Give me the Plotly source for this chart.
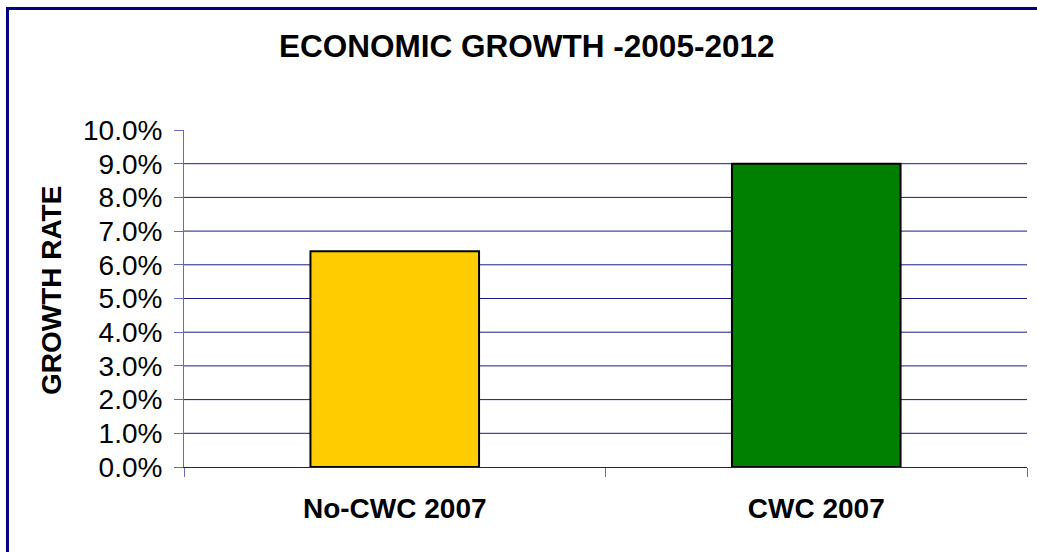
import plotly.graph_objects as go

# ---- data ----
categories = ["No-CWC 2007", "CWC 2007"]
growth_rate = [0.064, 0.090]
bar_colors = ["#FFCC00", "#008000"]
tick_values = [0.0, 0.01, 0.02, 0.03, 0.04, 0.05, 0.06, 0.07, 0.08, 0.09, 0.10]
grid_levels = [0.01, 0.02, 0.03, 0.04, 0.05, 0.06, 0.07, 0.08, 0.09]
title_text = "ECONOMIC GROWTH -2005-2012"
y_title = "GROWTH RATE"

FONT = "Arial, 'Liberation Sans', sans-serif"
GRID = "#1a1a88"
AXIS = "#6a6ab4"

fig = go.Figure(
    go.Bar(
        x=categories,
        y=growth_rate,
        marker=dict(color=bar_colors, line=dict(color="#000000", width=2)),
        width=0.4,
        hoverinfo="x+y",
    )
)

shapes = []
for g in grid_levels:
    shapes.append(dict(type="line", xref="paper", yref="y", x0=0, x1=1, y0=g, y1=g,
                       line=dict(color=GRID, width=1), layer="below"))
# outer border (frame around chart area)
shapes.append(dict(type="rect", xref="paper", yref="paper",
                   xsizemode="pixel", ysizemode="pixel", xanchor=0, yanchor=0,
                   x0=-176.5, x1=2000, y0=-600, y1=458.5,
                   line=dict(color="#000080", width=3), fillcolor="rgba(0,0,0,0)", layer="above"))

fig.update_layout(
    width=1037, height=552,
    margin=dict(l=184, r=10, t=130, b=85),
    paper_bgcolor="white", plot_bgcolor="white",
    font=dict(family=FONT, color="#000000"),
    showlegend=False,
    title=dict(text="<b>" + title_text + "</b>", x=0.508, xanchor="center",
               y=1 - 46 / 552, yanchor="middle", yref="container",
               font=dict(size=31.5, family=FONT, color="#000000")),
    shapes=shapes,
    annotations=[dict(text="<b>" + y_title + "</b>", xref="paper", yref="paper",
                      x=-0.1578, y=0.525, xanchor="center", yanchor="middle",
                      textangle=-90, showarrow=False,
                      font=dict(size=28, family=FONT, color="#000000"))],
    xaxis=dict(
        type="category", tickson="boundaries", ticks="outside", ticklen=9, tickcolor=AXIS,
        tickwidth=1, showline=True, linecolor=GRID, linewidth=1, showgrid=False,
        tickfont=dict(size=28, family=FONT, color="#000000", weight="bold"),
        ticklabelstandoff=16, range=[-0.5, 1.5],
    ),
    yaxis=dict(
        range=[0, 0.1], tickvals=tick_values, tickformat=".1%",
        ticks="outside", ticklen=9, tickcolor=AXIS, tickwidth=1,
        showline=True, linecolor=AXIS, linewidth=1, showgrid=False, zeroline=False,
        tickfont=dict(size=28, family=FONT, color="#000000"),
        ticklabelstandoff=6,
    ),
    bargap=0.6,
)

fig.write_html(
    "out.html",
    config={"displayModeBar": False},
    post_script="document.body.style.margin='0';document.body.style.overflow='hidden';",
)
